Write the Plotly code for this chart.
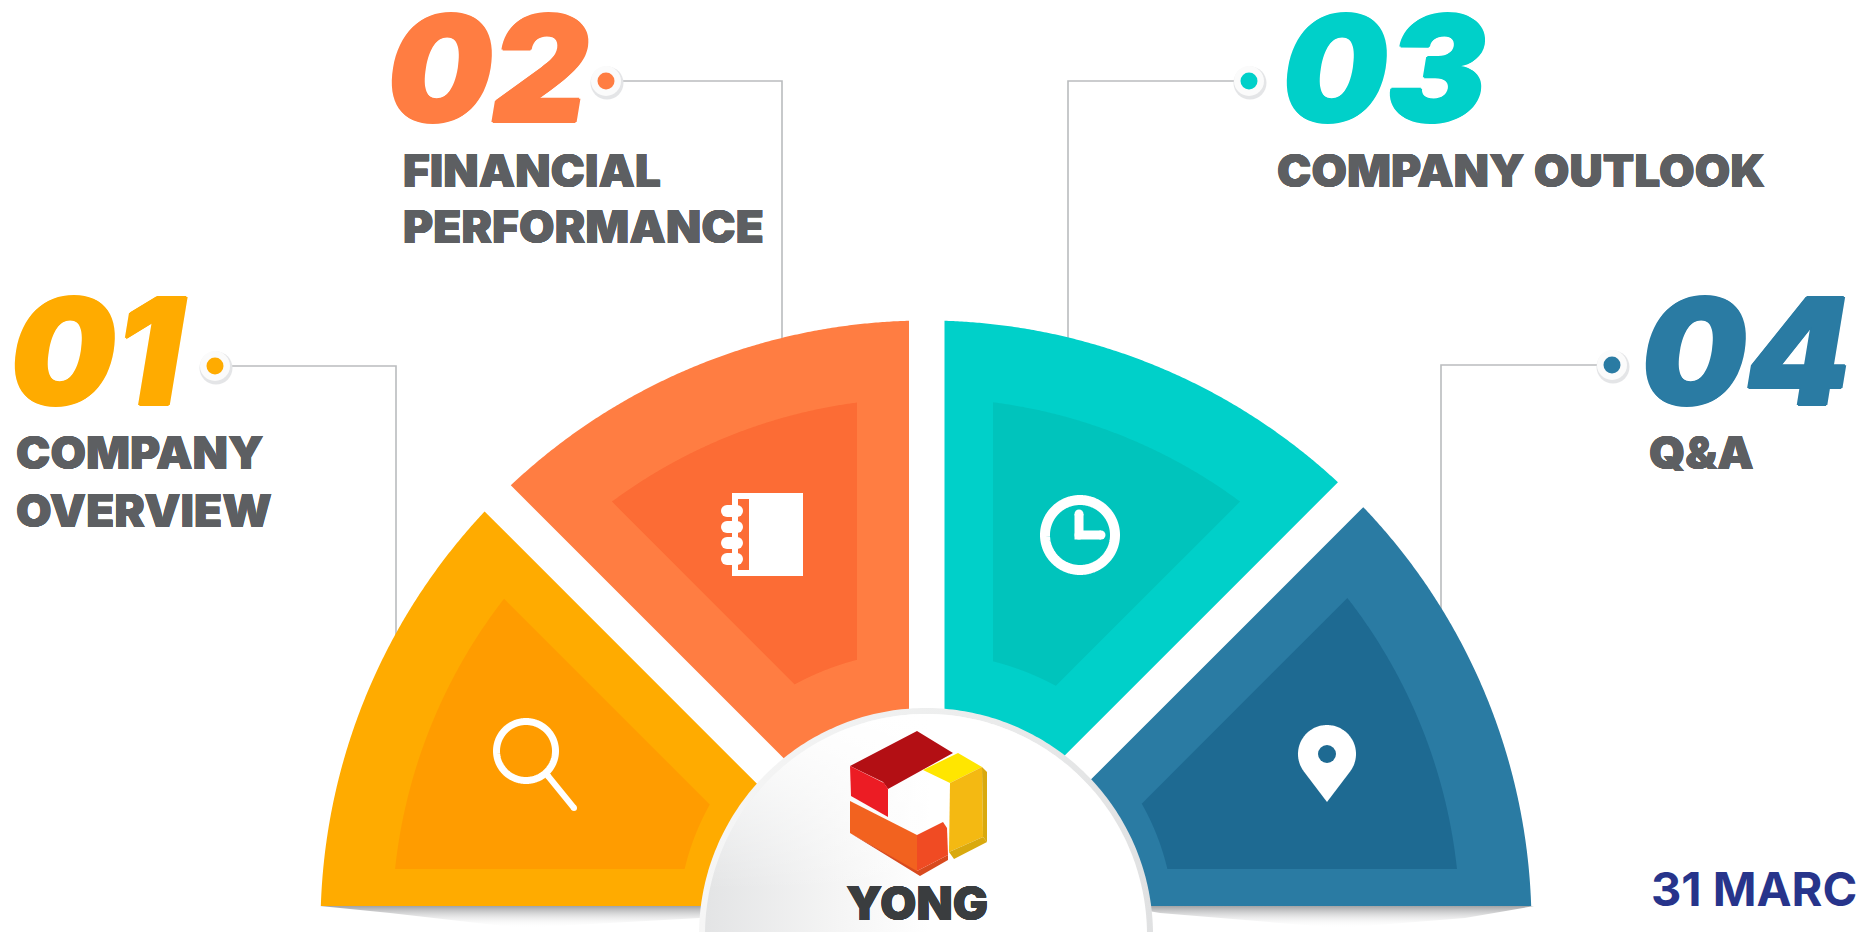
import numpy as np
import plotly.graph_objects as go

# ---- content -------------------------------------------------------------
section_numbers = ["01", "02", "03", "04"]
section_titles = [["COMPANY", "OVERVIEW"], ["FINANCIAL", "PERFORMANCE"], ["COMPANY OUTLOOK"], ["Q&A"]]
date_label = "31 MARCH"
brand_label = "YONG"

# ---- fan geometry (polar: degrees, pixels) -------------------------------
fan_center_x = 926
fan_center_y = 926
section_start_deg = [180, 135, 90, 45]
section_end_deg = [135, 90, 45, 0]
outer_radius = [605.5, 605.5, 605.5, 605.5]
outer_hole = [120, 120, 120, 120]
outer_gap_start = [20, 18, 18.5, 13]
outer_gap_end = [19, 17, 22.5, 20]
inner_radius = [534, 528, 528, 534]
inner_hole = [248, 275, 273, 248]
inner_gap_start = [57, 78, 67, 66]
inner_gap_end = [67, 69, 78, 57]

section_colors = ["#FFAB00", "#FF7D42", "#00D0C9", "#2A7BA3"]
section_inner_colors = ["#FF9C00", "#FC6C35", "#00C4BC", "#1E6A92"]
text_grey = "#5D5F62"

# ---- callouts ------------------------------------------------------------
dot_x = [215, 606, 1249, 1612]
dot_y = [366, 81, 81, 365]
elbow_x = [396, 782, 1068, 1441]
leader_end_y = [640, 345, 345, 615]

number_x = [9, 386, 1281, 1640]
number_y = [351, 68, 68, 351]
title_x = [15, 402, 1276, 1648]
title_y = [[452, 510], [170, 226], [170], [452]]

# ---- logo facets ---------------------------------------------------------
logo_facets = [
    ("#B30F14", [850, 917, 953, 888, 883], [766, 731, 753, 789, 782]),
    ("#EC1C24", [850, 884, 888, 888, 851], [766, 783, 789, 817, 796]),
    ("#F2621F", [850, 917, 917, 850], [801, 835, 872, 833]),
    ("#D84A1E", [850, 920, 948, 948, 917], [833, 876, 860, 855, 871]),
    ("#F04B23", [917, 943, 947, 948, 917], [835, 822, 828, 855, 871]),
    ("#FFE600", [923, 958, 982, 950], [770, 753, 767, 783]),
    ("#F4B912", [950, 982, 983, 949], [783, 767, 837, 852]),
    ("#D9A90E", [982, 987, 987, 983], [767, 772, 842, 837]),
    ("#D9A90E", [949, 983, 987, 954], [852, 837, 842, 859]),
]


def band(start, end, r_out, r_in, gap_start, gap_end):
    """Closed outline of a fan sector whose straight sides sit parallel to its rays."""
    def arc(r, flip):
        a0 = np.radians(start) - np.arcsin(gap_start / r)
        a1 = np.radians(end) + np.arcsin(gap_end / r)
        t = np.linspace(a0, a1, 200)
        return t[::-1] if flip else t
    t_o, t_i = arc(r_out, False), arc(r_in, True)
    x = np.r_[fan_center_x + r_out * np.cos(t_o), fan_center_x + r_in * np.cos(t_i)]
    y = np.r_[fan_center_y - r_out * np.sin(t_o), fan_center_y - r_in * np.sin(t_i)]
    return np.r_[x, x[0]], np.r_[y, y[0]]


def disc(cx, cy, r):
    t = np.linspace(0, 2 * np.pi, 360)
    return cx + r * np.cos(t), cy + r * np.sin(t)


fig = go.Figure()


def fill(x, y, color=None, **kw):
    fig.add_trace(go.Scatter(x=x, y=y, mode="lines", fill="toself",
                             line=dict(width=0, simplify=False),
                             fillcolor=color, hoverinfo="skip", **kw))


def stroke(x, y, color, width, marker=True):
    fig.add_trace(go.Scatter(x=x, y=y, mode="lines+markers" if marker else "lines",
                             line=dict(color=color, width=width, simplify=False),
                             marker=dict(color=color, size=width), hoverinfo="skip"))


# leaders go first so the fan covers their lower ends
for dx, dy, ex, ey in zip(dot_x, dot_y, elbow_x, leader_end_y):
    stroke([dx, ex, ex], [dy, dy, ey], "#BABCBE", 1.6, marker=False)

fig.add_trace(go.Scatter(x=[v + 1 for v in dot_x], y=[v + 2 for v in dot_y], mode="markers", hoverinfo="skip",
                         marker=dict(size=33, color="#E4E5E7")))
fig.add_trace(go.Scatter(x=dot_x, y=dot_y, mode="markers", hoverinfo="skip",
                         marker=dict(size=30, color="#FBFBFB")))
fig.add_trace(go.Scatter(x=dot_x, y=dot_y, mode="markers", hoverinfo="skip",
                         marker=dict(size=17, color=section_colors)))

# soft shadows under the fan
for lens_x in ([320, 390, 520, 700, 740], [1120, 1160, 1340, 1465, 1534]):
    fill(lens_x + lens_x[::-1], [906] * 5 + [906, 918, 928, 913, 906],
         fillgradient=dict(type="vertical", start=906, stop=928,
                           colorscale=[[0, "#A2A3A5"], [1, "rgba(255,255,255,0)"]]))

# the four sections
for i in range(4):
    fill(*band(section_start_deg[i], section_end_deg[i], outer_radius[i], outer_hole[i],
               outer_gap_start[i], outer_gap_end[i]), section_colors[i])
    fill(*band(section_start_deg[i], section_end_deg[i], inner_radius[i], inner_hole[i],
               inner_gap_start[i], inner_gap_end[i]), section_inner_colors[i])

# hub
fill(*disc(926, 935, 227),
     fillgradient=dict(type="horizontal", start=700, stop=1153,
                       colorscale=[[0, "#F6F6F6"], [0.55, "#EDEEEE"], [1, "#E0E1E2"]]))
fill(*disc(926, 935, 221),
     fillgradient=dict(type="horizontal", start=705, stop=930,
                       colorscale=[[0, "#E3E4E5"], [0.6, "#F5F5F5"], [1, "#FFFFFF"]]))
fill(*disc(926, 935, 221),
     fillgradient=dict(type="vertical", start=714, stop=890,
                       colorscale=[[0, "rgba(255,255,255,1)"], [1, "rgba(255,255,255,0)"]]))

# logo
for color, xs, ys in logo_facets:
    fill(xs + xs[:1], ys + ys[:1], color)

# magnifier
stroke(*disc(526, 751, 29.5), "#FFFFFF", 7, marker=False)
stroke([548, 574], [776, 808], "#FFFFFF", 6)

# notebook
fill([732, 803, 803, 732, 732], [493, 493, 576, 576, 493], "#FFFFFF")
fill([738, 749, 749, 738, 738], [499, 499, 570, 570, 499], section_inner_colors[1])
for ring_y in [511, 527, 543, 559]:
    stroke([727, 737], [ring_y, ring_y], "#FFFFFF", 12)

# clock
stroke(*disc(1080, 535, 35), "#FFFFFF", 10, marker=False)
stroke([1079, 1079, 1101], [514, 535, 535], "#FFFFFF", 9)

# pin
pin_t = np.radians(np.linspace(143, 397, 120))
pin_x = 1327 + 29 * np.cos(pin_t)
pin_y = 754 + 29 * np.sin(pin_t)
fill(np.r_[pin_x, 1327, pin_x[0]], np.r_[pin_y, 802, pin_y[0]], "#FFFFFF")
fig.add_trace(go.Scatter(x=[1327], y=[754], mode="markers", hoverinfo="skip",
                         marker=dict(size=18, color=section_inner_colors[3])))

# text
annotations = []


def heavy(color, d):
    offsets = [(d, 0), (-d, 0), (0, d), (0, -d)]
    return ", ".join(f"{a}px {b}px 0 {color}" for a, b in offsets)


def label(x, y, text, size, color, weight=900, style="normal", grow=0.0):
    font = dict(family="Inter", size=size, color=color, weight=weight, style=style)
    if grow:
        font["shadow"] = heavy(color, grow)
    annotations.append(dict(x=x, y=y, xref="x", yref="y", text=text, showarrow=False,
                            xanchor="left", yanchor="middle", borderpad=0, font=font))


for i in range(4):
    label(number_x[i], number_y[i], section_numbers[i], 148, section_colors[i],
          weight=900, style="italic", grow=1.2)
    for line, y in zip(section_titles[i], title_y[i]):
        label(title_x[i], y, line, 46, text_grey, grow=0.4)
label(1650, 888, date_label, 47, "#27348B", weight=700)
label(845, 902, brand_label, 47, "#3A3D3F", weight=900, grow=0.4)

fig.update_layout(
    width=1858, height=932, margin=dict(l=0, r=0, t=0, b=0), showlegend=False,
    paper_bgcolor="#FFFFFF", plot_bgcolor="#FFFFFF", annotations=annotations,
    xaxis=dict(range=[0, 1858], visible=False, fixedrange=True),
    yaxis=dict(range=[932, 0], visible=False, fixedrange=True),
)
fig.write_html("out.html", config=dict(displayModeBar=False),
               post_script="document.body.style.margin='0';document.body.style.overflow='hidden';")
